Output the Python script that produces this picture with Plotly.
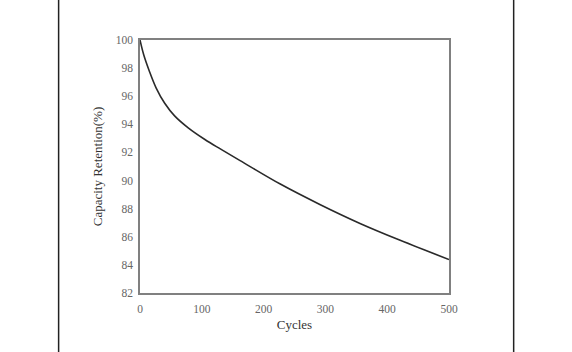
import plotly.graph_objects as go

cycles = [0, 6, 15, 26, 40, 56, 78, 105, 130, 162, 227, 291, 356, 421, 500]
retention = [100.0, 98.95, 97.8, 96.6, 95.5, 94.6, 93.75, 92.92, 92.25, 91.42, 89.75, 88.3, 86.95, 85.75, 84.38]

y_ticks = [82, 84, 86, 88, 90, 92, 94, 96, 98, 100]
x_ticks = [0, 100, 200, 300, 400, 500]

W, H = 572, 352
L, R, T, B = 140, 448.7, 40, 292.7

fig = go.Figure()
fig.add_trace(go.Scatter(x=cycles, y=retention, mode="lines",
                         line=dict(color="#2a2a2a", width=1.6, shape="spline", smoothing=1.0),
                         hoverinfo="skip"))

font = "Liberation Serif, Times New Roman, serif"
axis_common = dict(showgrid=False, zeroline=False, showline=True, linecolor="#808080",
                   linewidth=1.5, mirror=True, ticks="",
                   tickfont=dict(family=font, size=11.5, color="#666666"))

fig.update_layout(
    width=W, height=H,
    margin=dict(l=L, r=W - R, t=T, b=H - B),
    paper_bgcolor="white", plot_bgcolor="white",
    showlegend=False,
    xaxis=dict(range=[0, 500], tickvals=x_ticks, ticklabelstandoff=4, **axis_common,
               title=dict(text="Cycles", font=dict(family=font, size=13, color="#333333"), standoff=6)),
    yaxis=dict(range=[82, 100], tickvals=y_ticks, ticklabelstandoff=3, **axis_common,
               title=dict(text="Capacity Retention(%)", font=dict(family=font, size=13, color="#333333"), standoff=10)),
)

pw = R - L
for px in (58.7, 513.3):
    xp = (px - L) / pw
    fig.add_shape(type="line", xref="paper", yref="paper", x0=xp, x1=xp,
                  y0=-1, y1=2, line=dict(color="#222222", width=1.5))

fig.write_html("out.html")
